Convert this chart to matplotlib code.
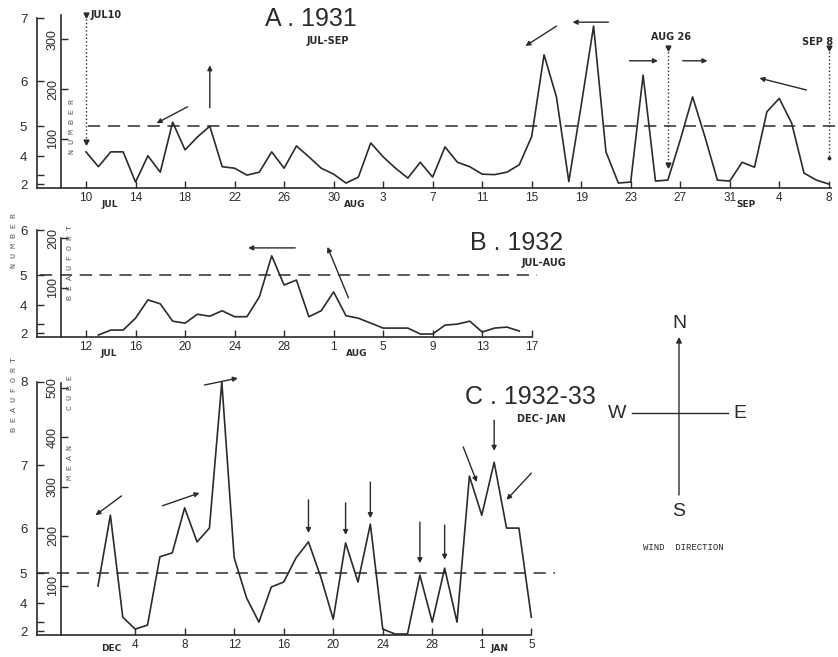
"""Daily mean cube of Beaufort number with wind direction arrows, three periods."""

import matplotlib.pyplot as plt

plt.rcParams["font.family"] = ["Liberation Sans", "DejaVu Sans"]

INK = "#2b2b2b"
W, H = 838, 657
PX_DAY = 12.38   # pixels per day on every panel
PX_CUBE = 0.495  # pixels per unit of mean cube

# A. 1931, Jul 10 (day 0) - Sep 8 (day 60)
a_days = list(range(61))
a_values = [73, 43, 73, 73, 12, 65, 32, 133, 77, 103, 125, 43, 40, 26, 32, 73, 40, 85, 63, 40, 28, 10,
            22, 91, 63, 40, 20, 52, 22, 83, 52, 43, 28, 27, 32, 47, 104, 269, 184, 13, 167, 327,
            73, 10, 12, 228, 14, 16, 97, 184, 103, 16, 14,
            52, 42, 154, 181, 131, 30, 16, 8]
a_tick_days = list(range(0, 61, 4))
a_tick_labels = ["10", "14", "18", "22", "26", "30", "3", "7", "11", "15", "19", "23", "27", "31", "4", "8"]

# B. 1932, Jul 12 = day 0, data Jul 13 - Aug 16
b_days = list(range(1, 36))
b_values = [4, 14, 14, 38, 75, 67, 32, 28, 46, 42, 53, 41, 41, 81, 164, 105, 115, 41, 53,
            91, 43, 38, 28, 18, 18, 18, 6, 6, 24, 26, 32, 10, 18, 20, 12]
b_tick_days = list(range(0, 37, 4))
b_tick_labels = ["12", "16", "20", "24", "28", "1", "5", "9", "13", "17"]

# C. 1932-33, Dec 1 (day 0) - Jan 5 (day 35)
c_days = list(range(36))
c_values = [99, 242, 36, 12, 20, 158, 166, 257, 188, 216, 511, 156, 75, 26, 97, 107, 156, 188,
            117, 32, 186, 107, 224, 12, 2, 2, 121, 26, 135, 26, 321, 242, 349, 216, 216, 36]
c_tick_days = list(range(3, 36, 4))
c_tick_labels = ["4", "8", "12", "16", "20", "24", "28", "1", "5"]

# wind direction arrows (tail day, tail cube, head day, head cube)
a_arrows = [(8.2, 164, 5.7, 131), (10.0, 162, 10.0, 248), (38.0, 327, 35.5, 287),
            (42.2, 335, 39.3, 335), (43.9, 257, 46.2, 257), (48.2, 257, 50.2, 257),
            (58.2, 198, 54.4, 222)]
b_arrows = [(16.9, 180, 13.1, 180), (21.2, 79, 19.5, 182)]
c_arrows = [(1.9, 281, -0.2, 242), (5.2, 261, 8.2, 287), (8.6, 505, 11.3, 519),
            (17, 273, 17, 206), (20, 267, 20, 202), (22, 309, 22, 236), (26, 228, 26, 145),
            (28, 222, 28, 152), (29.5, 380, 30.6, 309), (32, 434, 32, 372), (35.0, 327, 33.0, 273)]

# dotted period markers in panel A: (day, top, bottom, label)
a_markers = [(0, 350, 93, "JUL10"), (47, 283, 46, "AUG 26"), (60, 283, 61, "SEP 8")]


def make_panel(left, right, base, ytop, x0):
    ax = fig.add_axes([left / W, 1 - base / H, (right - left) / W, ytop * PX_CUBE / H])
    ax.set_xlim((left - x0) / PX_DAY, (right - x0) / PX_DAY)
    ax.set_ylim(0, ytop)
    ax.patch.set_visible(False)
    ax.spines[["top", "right"]].set_visible(False)
    ax.spines[["left", "bottom"]].set_linewidth(1.2)
    ax.spines[["left", "bottom"]].set_color(INK)
    return ax


def dress_panel(ax, left, right, tick_days, tick_labels, bft_top, cube_ticks, cube_top, axis_end, dash):
    ax.set_xticks(tick_days, tick_labels)
    bft = [b for b in range(2, bft_top + 1)]
    ax.set_yticks([b ** 3 for b in bft], ["" if b == 3 else str(b) for b in bft])
    ax.tick_params(direction="in", length=5, width=1, colors=INK)
    ax.tick_params(axis="x", pad=3, labelsize=8.5)
    ax.tick_params(axis="y", pad=7, labelsize=9.5)
    ax.spines["left"].set_bounds(0, bft_top ** 3)
    ax.spines["bottom"].set_bounds(ax.get_xlim()[0], axis_end)
    sec = ax.secondary_yaxis((61 - left) / (right - left))
    sec.set_yticks(cube_ticks, labels=[str(v) for v in cube_ticks], rotation=90, va="center")
    sec.tick_params(direction="in", length=5, width=1, pad=1.5, labelsize=9, colors=INK)
    sec.spines["left"].set_bounds(0, cube_top)
    sec.spines["left"].set_linewidth(1.2)
    sec.spines["left"].set_color(INK)
    ax.plot(dash, [5 ** 3, 5 ** 3], color=INK, lw=1.1, ls=(0, (8, 5)))


def draw_arrows(ax, arrows):
    for tx, ty, hx, hy in arrows:
        ax.annotate("", xy=(hx, hy), xytext=(tx, ty), annotation_clip=False,
                    arrowprops=dict(arrowstyle="-|>", color=INK, lw=1.0, mutation_scale=7,
                                    shrinkA=0, shrinkB=0))


fig = plt.figure(figsize=(W / 100, H / 100), dpi=100)

month_kw = dict(fontsize=6.5, fontweight="bold", color=INK, family="DejaVu Sans",
                ha="center", va="center", clip_on=False)

# panel A
ax_a = make_panel(37, 838, 188, 360, 86)
ax_a.plot(a_days, a_values, color=INK, lw=1.2)
dress_panel(ax_a, 37, 838, a_tick_days, a_tick_labels, 7, [100, 200, 300], 350, 60.2, [0.2, 60.7])
draw_arrows(ax_a, a_arrows)
for day, top, bottom, label in a_markers:
    ax_a.plot([day, day], [top, bottom], color=INK, lw=1.0, ls=":", clip_on=False)
    ax_a.plot([day], [top], marker="v", ms=3.5, color=INK, clip_on=False)
    ax_a.plot([day], [bottom], marker="v" if day < 60 else ".", ms=3.5, color=INK, clip_on=False)
for day, label in [(1.9, "JUL"), (21.7, "AUG"), (53.3, "SEP")]:
    ax_a.text(day, -34, label, **month_kw)

# panel B
ax_b = make_panel(37, 560, 337, 230, 86)
ax_b.plot(b_days, b_values, color=INK, lw=1.2)
dress_panel(ax_b, 37, 560, b_tick_days, b_tick_labels, 6, [100, 200], 200, 36, [-3.7, 36.4])
draw_arrows(ax_b, b_arrows)
for day, label in [(1.8, "JUL"), (21.9, "AUG")]:
    ax_b.text(day, -34, label, **month_kw)

# panel C
ax_c = make_panel(37, 600, 635, 540, 98)
ax_c.plot(c_days, c_values, color=INK, lw=1.2)
dress_panel(ax_c, 37, 600, c_tick_days, c_tick_labels, 8, [100, 200, 300, 400, 500], 510, 35,
            [-4.9, 36.9])
draw_arrows(ax_c, c_arrows)
for day, label in [(1.1, "DEC"), (32.4, "JAN")]:
    ax_c.text(day, -28, label, **month_kw)

# overlay in pixel units for titles, compass and side labels
ov = fig.add_axes([0, 0, 1, 1])
ov.set_xlim(0, W)
ov.set_ylim(H, 0)
ov.axis("off")
ov.patch.set_visible(False)

title_kw = dict(fontsize=18, color=INK, ha="center", va="center")
sub_kw = dict(fontsize=7, fontweight="bold", color=INK, family="DejaVu Sans", ha="center", va="center")
ov.text(311, 19, "A . 1931", **title_kw)
ov.text(328, 41, "JUL-SEP", **sub_kw)
ov.text(517, 243, "B . 1932", **title_kw)
ov.text(544, 263, "JUL-AUG", **sub_kw)
ov.text(530, 397, "C . 1932-33", **title_kw)
ov.text(541, 419, "DEC- JAN", **sub_kw)

mark_kw = dict(fontsize=7, fontweight="bold", color=INK, family="DejaVu Sans", va="center")
ov.text(91, 15, "JUL10", ha="left", **mark_kw)
ov.text(671, 37, "AUG 26", ha="center", **mark_kw)
ov.text(818, 42, "SEP 8", ha="center", **mark_kw)

# compass
ov.annotate("", xy=(679, 337), xytext=(679, 495),
            arrowprops=dict(arrowstyle="-|>", color=INK, lw=1.0, mutation_scale=8, shrinkA=0, shrinkB=0))
ov.plot([632, 728], [413, 413], color=INK, lw=1.0)
compass_kw = dict(fontsize=14, color=INK, ha="center", va="center")
ov.text(679, 324, "N", **compass_kw)
ov.text(617, 413, "W", **compass_kw)
ov.text(740, 413, "E", **compass_kw)
ov.text(679, 512, "S", **compass_kw)
ov.text(683, 547, "WIND  DIRECTION", fontsize=6.5, color=INK, family="Liberation Mono",
        ha="center", va="center")

side_kw = dict(fontsize=6, color="#555555", family="Liberation Mono", rotation=90,
               ha="center", va="center")
ov.text(15, 240, "N U M B E R", **side_kw)
ov.text(15, 395, "B E A U F O R T", **side_kw)
ov.text(72, 127, "N U M B E R", **side_kw)
ov.text(70, 263, "B E A U F O R T", **side_kw)
ov.text(70, 428, "M E A N       C U B E", **side_kw)

fig.savefig("out.png", dpi=100)
